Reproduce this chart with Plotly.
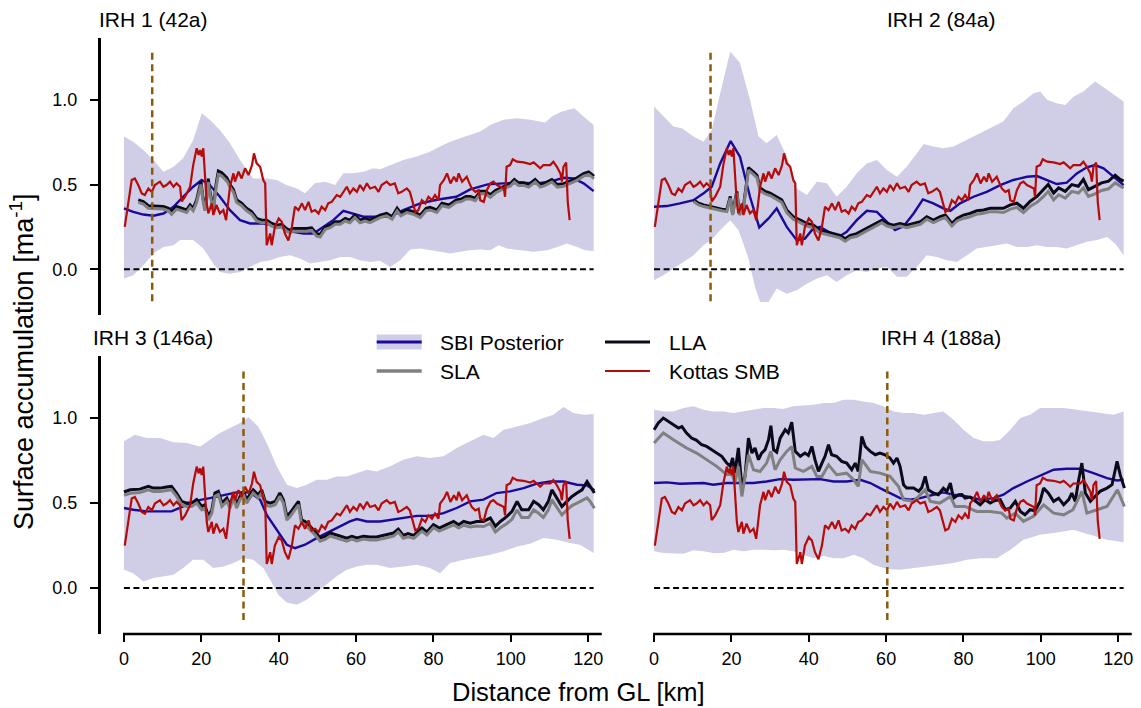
import plotly.graph_objects as go

# ---------------------------------------------------------------- data ----
titles = ["IRH 1 (42a)", "IRH 2 (84a)", "IRH 3 (146a)", "IRH 4 (188a)"]
marker_km = [7.3, 14.6, 30.9, 60.3]          # vertical dashed reference lines
x_ticks = [0, 20, 40, 60, 80, 100, 120]
y_ticks = [0.0, 0.5, 1.0]
y_tick_text = ["0.0", "0.5", "1.0"]

# Kottas SMB (same profile in every panel)
kottas_x = [0.2, 2.0, 2.8, 3.7, 4.6, 5.4, 6.3, 7.2, 8.0, 9.3,
            10.2, 11.0, 11.9, 12.8, 13.6, 14.5, 14.9, 15.8, 17.1, 17.9,
            18.8, 19.3, 19.7, 20.1, 20.5, 20.9, 21.4, 21.8, 22.7, 23.1,
            23.9, 24.8, 25.7, 26.4, 27.0, 27.4, 28.3, 28.7, 29.6, 30.4,
            31.3, 32.2, 33.1, 33.6, 34.3, 35.2, 36.0, 36.5, 36.9, 37.8,
            38.2, 39.0, 40.0, 40.8, 41.6, 42.5, 43.4, 44.2, 45.1, 46.0,
            46.8, 47.7, 48.5, 49.4, 50.3, 51.1, 52.0, 52.8, 53.7, 55.0,
            55.9, 56.7, 57.6, 58.4, 59.3, 60.2, 61.0, 61.9, 62.8, 63.6,
            64.9, 65.8, 66.6, 67.9, 68.8, 70.0, 70.9, 71.8, 73.1, 73.9,
            74.8, 75.3, 76.1, 77.0, 77.9, 78.7, 79.6, 80.4, 81.3, 81.7,
            82.7, 83.5, 84.4, 85.3, 86.0, 86.5, 87.4, 88.6, 89.5, 89.9,
            90.8, 91.7, 92.1, 93.0, 93.8, 94.7, 95.5, 96.4, 97.3, 98.2,
            98.5, 98.9, 99.8, 100.5, 101.6, 103.3, 105.0, 105.9, 106.7, 107.6,
            108.4, 110.2, 111.0, 111.9, 112.8, 113.2, 113.6, 114.3, 114.7, 115.2]
kottas_y = [0.25, 0.527, 0.536, 0.497, 0.448, 0.438, 0.477, 0.457, 0.497, 0.517,
            0.487, 0.497, 0.517, 0.487, 0.507, 0.487, 0.40, 0.428, 0.487, 0.615,
            0.714, 0.675, 0.704, 0.665, 0.714, 0.566, 0.389, 0.33, 0.389, 0.32,
            0.379, 0.33, 0.349, 0.29, 0.408, 0.487, 0.566, 0.517, 0.576, 0.536,
            0.596, 0.556, 0.615, 0.684, 0.625, 0.605, 0.527, 0.507, 0.142, 0.211,
            0.142, 0.25, 0.30, 0.28, 0.211, 0.17, 0.25, 0.369, 0.349, 0.389,
            0.349, 0.398, 0.339, 0.349, 0.329, 0.369, 0.349, 0.389, 0.398, 0.438,
            0.428, 0.457, 0.487, 0.448, 0.477, 0.457, 0.497, 0.467, 0.507, 0.477,
            0.487, 0.457, 0.497, 0.517, 0.497, 0.507, 0.448, 0.457, 0.477, 0.457,
            0.389, 0.339, 0.349, 0.408, 0.389, 0.428, 0.408, 0.438, 0.408, 0.497,
            0.527, 0.566, 0.507, 0.546, 0.517, 0.566, 0.517, 0.546, 0.497, 0.477,
            0.457, 0.467, 0.408, 0.398, 0.467, 0.507, 0.517, 0.497, 0.487, 0.477,
            0.428, 0.605, 0.615, 0.649, 0.635, 0.631, 0.621, 0.631, 0.615, 0.596,
            0.615, 0.615, 0.635, 0.605, 0.566, 0.517, 0.605, 0.63, 0.40, 0.29]

# ---- IRH 1
p1_up_x = [0, 2.4, 5.0, 7.6, 10.2, 12.8, 15.3, 17.9, 20.1, 22.2, 24.8, 27.4, 30.0, 32.2, 33.4,
           36.9, 39.5, 42.0, 44.7, 46.8, 49.4, 52.0, 54.6, 56.7, 59.3, 61.9, 64.5, 66.2, 68.8,
           72.2, 75.7, 79.1, 81.7, 84.3, 86.9, 89.5, 92.1, 94.7, 98.1, 101.6, 105.0, 108.9,
           110.6, 113.2, 116.4, 118.8, 121.4]
p1_up = [0.783, 0.753, 0.704, 0.645, 0.576, 0.605, 0.655, 0.763, 0.921, 0.882, 0.822, 0.744,
         0.645, 0.576, 0.536, 0.536, 0.527, 0.497, 0.477, 0.448, 0.507, 0.517, 0.497, 0.566,
         0.566, 0.576, 0.596, 0.59, 0.615, 0.645, 0.665, 0.694, 0.724, 0.753, 0.773, 0.793,
         0.813, 0.852, 0.882, 0.892, 0.882, 0.866, 0.901, 0.931, 0.951, 0.901, 0.852]
p1_lo_x = [0, 2.4, 5.0, 7.6, 10.2, 12.8, 14.5, 17.9, 20.5, 23.1, 24.8, 27.4, 30.0, 32.6, 35.2,
           37.8, 40.3, 42.9, 45.5, 48.1, 50.7, 53.3, 55.9, 58.4, 61.0, 63.6, 66.2, 68.8, 71.4,
           74.0, 76.6, 79.1, 81.7, 84.3, 86.9, 89.5, 92.1, 94.7, 96.8, 99.0, 102.4, 105.9,
           109.4, 112.0, 114.5, 117.1, 119.2, 121.4]
p1_lo = [-0.055, -0.035, 0.024, 0.093, 0.132, 0.142, 0.172, 0.172, 0.122, 0.034, -0.016,
         -0.026, -0.016, 0.014, 0.043, 0.053, 0.073, 0.083, 0.063, 0.034, 0.043, 0.053, 0.073,
         0.073, 0.053, 0.043, 0.05, 0.014, 0.053, 0.116, 0.122, 0.112, 0.103, 0.093, 0.103,
         0.112, 0.116, 0.112, 0.142, 0.122, 0.112, 0.103, 0.112, 0.132, 0.152, 0.132, 0.112, 0.108]
p1_mean_x = [0, 2.4, 5.0, 7.6, 10.2, 12.8, 15.3, 17.9, 20.1, 22.2, 24.8, 27.4, 30.0, 32.6, 36.0,
             38.6, 41.2, 43.8, 46.4, 49.0, 51.6, 54.1, 56.7, 59.3, 61.9, 66.2, 68.8, 72.2, 76.6,
             81.2, 85.9, 89.5, 94.0, 98.1, 102.4, 106.7, 110.2, 113.6, 116.2, 118.8, 121.4]
p1_mean = [0.359, 0.339, 0.323, 0.316, 0.329, 0.369, 0.428, 0.487, 0.527, 0.497, 0.428, 0.349,
           0.29, 0.27, 0.27, 0.26, 0.25, 0.221, 0.211, 0.211, 0.25, 0.29, 0.345, 0.329, 0.31,
           0.31, 0.31, 0.349, 0.389, 0.412, 0.428, 0.471, 0.501, 0.507, 0.511, 0.507, 0.517,
           0.54, 0.536, 0.507, 0.461]
p1_layer_x = [3.7, 5.0, 6.3, 8.4, 10.2, 11.5, 12.3, 13.6, 14.9, 16.2,
              17.1, 17.9, 18.8, 19.5, 19.9, 20.3, 20.9, 21.4, 21.8, 22.2,
              23.1, 23.8, 24.4, 25.3, 26.6, 27.4, 28.3, 29.1, 30.4, 31.7,
              33.0, 34.3, 35.6, 36.9, 38.2, 39.5, 40.8, 42.0, 42.9, 43.8,
              45.5, 47.2, 48.5, 49.8, 50.7, 52.0, 53.3, 54.6, 55.9, 57.2,
              58.4, 59.7, 61.0, 62.3, 63.6, 65.3, 66.2, 67.9, 69.3, 70.6,
              71.6, 73.1, 74.8, 76.6, 78.1, 79.1, 80.9, 82.2, 84.0, 85.9,
              87.2, 88.4, 89.5, 90.8, 92.1, 93.4, 94.7, 96.0, 97.3, 98.5,
              99.8, 100.9, 102.0, 103.3, 104.6, 106.3, 107.6, 108.9, 110.6, 112.0,
              113.6, 115.3, 117.1, 118.8, 120.1, 121.5]
p1_lla = [0.41, 0.40, 0.375, 0.37, 0.37, 0.36, 0.34, 0.37, 0.36, 0.35,
          0.38, 0.36, 0.41, 0.48, 0.52, 0.44, 0.36, 0.43, 0.535, 0.46,
          0.36, 0.50, 0.58, 0.57, 0.54, 0.50, 0.47, 0.41, 0.39, 0.36,
          0.34, 0.30, 0.29, 0.29, 0.27, 0.26, 0.265, 0.24, 0.23, 0.24,
          0.24, 0.24, 0.245, 0.21, 0.205, 0.25, 0.26, 0.28, 0.28, 0.30,
          0.29, 0.32, 0.29, 0.30, 0.29, 0.31, 0.32, 0.33, 0.31, 0.36,
          0.33, 0.35, 0.34, 0.32, 0.36, 0.365, 0.35, 0.39, 0.38, 0.41,
          0.415, 0.43, 0.43, 0.42, 0.46, 0.46, 0.44, 0.465, 0.48, 0.495,
          0.505, 0.53, 0.51, 0.51, 0.50, 0.53, 0.50, 0.51, 0.53, 0.50,
          0.505, 0.52, 0.54, 0.565, 0.575, 0.55]
p1_sla = [0.395, 0.385, 0.36, 0.355, 0.355, 0.345, 0.325, 0.355, 0.345, 0.335,
          0.365, 0.345, 0.395, 0.46, 0.50, 0.425, 0.345, 0.415, 0.515, 0.445,
          0.345, 0.48, 0.56, 0.55, 0.52, 0.485, 0.455, 0.395, 0.375, 0.345,
          0.325, 0.285, 0.275, 0.275, 0.255, 0.245, 0.25, 0.225, 0.215, 0.225,
          0.225, 0.225, 0.23, 0.195, 0.19, 0.235, 0.245, 0.265, 0.265, 0.285,
          0.275, 0.305, 0.275, 0.285, 0.275, 0.295, 0.305, 0.315, 0.295, 0.345,
          0.315, 0.335, 0.325, 0.305, 0.345, 0.35, 0.335, 0.375, 0.365, 0.395,
          0.40, 0.415, 0.415, 0.405, 0.445, 0.445, 0.425, 0.45, 0.465, 0.48,
          0.49, 0.515, 0.495, 0.495, 0.485, 0.515, 0.485, 0.495, 0.515, 0.485,
          0.49, 0.505, 0.525, 0.55, 0.56, 0.535]

# ---- IRH 2
p2_up_x = [0, 2.4, 5.0, 7.2, 10.2, 12.8, 14.9, 17.1, 19.7, 22.2, 24.8, 27.0, 29.1, 31.7, 34.3,
           36.9, 39.5, 42.1, 44.7, 47.2, 49.8, 52.4, 55.0, 57.6, 60.2, 62.8, 65.3, 67.9, 69.7,
           72.2, 74.8, 77.4, 80.0, 82.6, 85.2, 87.8, 90.3, 92.9, 95.5, 98.1, 99.8, 101.6, 104.1,
           106.3, 108.5, 111.0, 114.0, 116.2, 118.8, 121.4]
p2_up = [0.961, 0.901, 0.842, 0.832, 0.783, 0.753, 0.822, 1.039, 1.286, 1.217, 1.0, 0.783,
         0.744, 0.793, 0.665, 0.477, 0.438, 0.517, 0.507, 0.428, 0.487, 0.566, 0.625, 0.645,
         0.586, 0.546, 0.605, 0.684, 0.74, 0.724, 0.714, 0.724, 0.753, 0.783, 0.813, 0.842,
         0.872, 0.951, 0.99, 1.039, 1.049, 1.0, 0.98, 0.97, 1.02, 1.049, 1.108, 1.075, 1.03, 0.99]
p2_lo_x = [0, 2.4, 5.0, 7.6, 10.2, 12.8, 14.9, 17.1, 19.7, 21.8, 24.3, 26.1, 27.4, 29.6, 31.7,
           34.3, 36.9, 39.5, 42.1, 44.7, 47.2, 49.8, 52.4, 55.0, 57.6, 60.2, 62.8, 65.3, 67.9,
           70.5, 73.1, 75.7, 78.3, 80.9, 83.4, 86.0, 88.6, 91.2, 93.8, 96.4, 99.0, 101.6, 104.1,
           106.7, 109.3, 111.9, 114.5, 117.1, 119.2, 121.4]
p2_lo = [-0.065, -0.035, 0.004, 0.043, 0.083, 0.142, 0.176, 0.231, 0.29, 0.231, 0.073, -0.105,
         -0.193, -0.193, -0.114, -0.144, -0.124, -0.085, -0.055, -0.035, -0.075, -0.035, -0.006,
         -0.016, 0.004, 0.014, -0.045, -0.045, 0.014, 0.083, 0.073, 0.053, 0.043, 0.083, 0.122,
         0.132, 0.142, 0.152, 0.132, 0.132, 0.142, 0.132, 0.132, 0.122, 0.142, 0.162, 0.172,
         0.191, 0.152, 0.083]
p2_mean_x = [0, 3.3, 6.7, 10.2, 12.8, 14.9, 17.1, 19.8, 22.2, 24.8, 27.2, 29.6, 31.7, 34.3, 36.9,
             39.0, 40.8, 42.9, 45.1, 47.7, 49.8, 52.4, 55.0, 57.6, 60.2, 62.3, 64.5, 67.1, 69.5,
             72.2, 74.8, 76.6, 79.1, 82.6, 86.0, 89.5, 92.9, 96.4, 99.0, 101.6, 104.1, 106.7,
             109.3, 111.9, 114.0, 116.2, 118.8, 121.4]
p2_mean = [0.369, 0.373, 0.389, 0.408, 0.448, 0.487, 0.625, 0.757, 0.665, 0.428, 0.247, 0.3,
           0.359, 0.25, 0.172, 0.181, 0.231, 0.25, 0.221, 0.191, 0.221, 0.29, 0.345, 0.339, 0.28,
           0.231, 0.254, 0.329, 0.412, 0.389, 0.359, 0.345, 0.389, 0.428, 0.457, 0.497, 0.527,
           0.546, 0.55, 0.527, 0.503, 0.511, 0.566, 0.602, 0.615, 0.596, 0.546, 0.497]
p2_layer_x = [10.2, 11.5, 12.8, 14.5, 15.8, 17.5, 18.8, 19.7, 20.3, 21.4,
              22.1, 23.1, 23.8, 24.4, 25.7, 26.6, 27.4, 28.7, 30.0, 31.7,
              33.0, 34.3, 36.0, 37.8, 39.5, 41.2, 42.9, 44.7, 46.4, 48.1,
              49.4, 50.7, 52.4, 54.1, 55.9, 57.6, 58.9, 60.2, 61.9, 63.6,
              65.3, 67.1, 68.8, 70.5, 72.2, 74.0, 75.3, 77.0, 78.3, 80.0,
              81.7, 83.4, 85.2, 86.9, 88.6, 90.3, 92.1, 93.8, 95.5, 97.2,
              99.0, 100.7, 101.9, 103.3, 104.6, 106.3, 108.0, 109.7, 111.0, 112.3,
              114.0, 115.7, 117.5, 119.2, 120.5, 121.4]
p2_lla = [0.41, 0.39, 0.38, 0.37, 0.365, 0.355, 0.35, 0.43, 0.33, 0.46,
          0.33, 0.37, 0.49, 0.60, 0.575, 0.555, 0.48, 0.46, 0.45, 0.43,
          0.41, 0.35, 0.31, 0.29, 0.27, 0.26, 0.23, 0.22, 0.21, 0.20,
          0.18, 0.20, 0.21, 0.23, 0.25, 0.27, 0.29, 0.27, 0.26, 0.27,
          0.26, 0.27, 0.28, 0.31, 0.29, 0.31, 0.32, 0.27, 0.30, 0.32,
          0.33, 0.345, 0.35, 0.36, 0.36, 0.36, 0.38, 0.39, 0.36, 0.40,
          0.43, 0.47, 0.50, 0.45, 0.48, 0.46, 0.50, 0.49, 0.53, 0.47,
          0.49, 0.51, 0.52, 0.555, 0.53, 0.52]
p2_sla = [0.40, 0.38, 0.37, 0.36, 0.355, 0.345, 0.34, 0.42, 0.32, 0.45,
          0.32, 0.36, 0.48, 0.585, 0.56, 0.54, 0.465, 0.445, 0.435, 0.415,
          0.395, 0.335, 0.295, 0.275, 0.255, 0.245, 0.215, 0.205, 0.195, 0.185,
          0.165, 0.185, 0.195, 0.215, 0.235, 0.255, 0.275, 0.255, 0.245, 0.255,
          0.245, 0.255, 0.265, 0.295, 0.275, 0.295, 0.305, 0.255, 0.285, 0.30,
          0.31, 0.325, 0.33, 0.34, 0.34, 0.335, 0.355, 0.365, 0.335, 0.37,
          0.395, 0.43, 0.46, 0.41, 0.44, 0.42, 0.46, 0.45, 0.48, 0.43,
          0.445, 0.465, 0.475, 0.51, 0.49, 0.48]

# ---- IRH 3
p3_up_x = [0, 2.8, 5.9, 9.3, 12.8, 16.2, 19.7, 22.2, 24.8, 27.4, 30.0, 32.2, 34.7, 36.9, 39.5,
           42.1, 44.7, 47.2, 49.8, 52.4, 55.0, 57.6, 60.2, 62.8, 65.3, 68.8, 72.2, 75.7, 79.1,
           82.6, 86.0, 89.5, 92.9, 95.5, 98.1, 101.6, 105.0, 108.4, 111.0, 113.6, 116.2, 118.8, 121.4]
p3_up = [0.863, 0.902, 0.882, 0.882, 0.857, 0.853, 0.833, 0.873, 0.912, 0.941, 0.971, 1.004,
         0.951, 0.853, 0.716, 0.608, 0.588, 0.608, 0.637, 0.637, 0.657, 0.657, 0.676, 0.696,
         0.686, 0.716, 0.755, 0.775, 0.765, 0.775, 0.824, 0.863, 0.902, 0.882, 0.931, 0.951,
         0.971, 1.0, 1.02, 1.065, 1.029, 1.02, 1.024]
p3_lo_x = [0, 2.4, 5.0, 7.6, 10.2, 12.8, 15.3, 17.9, 20.5, 23.1, 25.7, 28.3, 30.9, 33.4, 36.0,
           37.8, 39.9, 42.1, 44.7, 47.2, 49.8, 52.4, 55.0, 57.6, 60.2, 62.8, 65.3, 68.8, 72.2,
           75.7, 79.1, 81.7, 84.3, 87.8, 91.2, 94.7, 98.1, 101.6, 105.0, 108.4, 111.9, 115.3,
           117.9, 121.4]
p3_lo = [0.108, 0.088, 0.039, 0.059, 0.069, 0.078, 0.118, 0.167, 0.167, 0.118, 0.127, 0.147,
         0.176, 0.167, 0.118, 0.049, -0.039, -0.084, -0.098, -0.069, -0.025, 0.02, 0.069, 0.108,
         0.127, 0.137, 0.137, 0.118, 0.127, 0.137, 0.118, 0.088, 0.147, 0.167, 0.182, 0.196,
         0.216, 0.245, 0.261, 0.294, 0.284, 0.265, 0.255, 0.206]
p3_mean_x = [0, 2.4, 5.9, 9.3, 12.3, 15.3, 18.8, 22.2, 25.7, 29.1, 32.6, 35.2, 36.9, 39.5, 42.1,
             44.2, 46.8, 49.8, 53.3, 55.9, 58.4, 60.2, 62.8, 66.2, 68.8, 72.2, 75.7, 79.1, 82.6,
             86.0, 89.5, 92.9, 96.3, 99.8, 103.3, 106.7, 110.2, 113.6, 117.1, 119.7, 121.6]
p3_mean = [0.471, 0.461, 0.451, 0.451, 0.451, 0.48, 0.514, 0.529, 0.545, 0.563, 0.563, 0.52,
           0.431, 0.343, 0.255, 0.235, 0.255, 0.294, 0.333, 0.363, 0.392, 0.406, 0.392, 0.392,
           0.402, 0.412, 0.425, 0.425, 0.441, 0.471, 0.51, 0.52, 0.559, 0.569, 0.588, 0.614,
           0.627, 0.627, 0.608, 0.604, 0.575]
p3_layer_x = [0, 1.6, 4.1, 6.3, 7.6, 9.3, 11.0, 12.3, 13.6, 14.9,
              16.2, 17.5, 18.8, 20.1, 20.9, 21.8, 22.7, 23.5, 24.4, 25.3,
              26.6, 27.4, 28.3, 29.1, 30.0, 30.9, 31.7, 32.6, 33.4, 34.7,
              35.6, 36.5, 37.8, 39.1, 40.3, 41.2, 42.1, 42.9, 44.2, 45.1,
              45.9, 46.8, 48.1, 49.4, 50.7, 52.0, 53.3, 54.6, 55.9, 57.6,
              58.9, 60.2, 61.9, 63.6, 65.3, 66.2, 67.9, 69.7, 70.9, 72.2,
              73.4, 74.9, 77.0, 78.3, 80.0, 81.5, 83.4, 85.2, 86.5, 87.8,
              89.5, 91.2, 92.9, 94.7, 96.0, 97.3, 99.0, 100.3, 101.6, 102.8,
              104.6, 105.9, 107.2, 108.4, 109.7, 110.6, 111.9, 113.2, 114.5, 115.8,
              117.1, 118.4, 119.7, 120.5, 121.6]
p3_lla = [0.565, 0.578, 0.582, 0.598, 0.588, 0.588, 0.594, 0.598, 0.559, 0.51,
          0.50, 0.50, 0.52, 0.48, 0.49, 0.422, 0.46, 0.559, 0.569, 0.50,
          0.529, 0.49, 0.549, 0.49, 0.539, 0.569, 0.52, 0.549, 0.578, 0.549,
          0.578, 0.51, 0.50, 0.51, 0.559, 0.52, 0.422, 0.441, 0.48, 0.51,
          0.402, 0.392, 0.363, 0.333, 0.294, 0.304, 0.324, 0.315, 0.308, 0.294,
          0.305, 0.295, 0.305, 0.30, 0.30, 0.304, 0.314, 0.324, 0.347, 0.31,
          0.32, 0.31, 0.353, 0.33, 0.373, 0.353, 0.373, 0.392, 0.373, 0.392,
          0.382, 0.392, 0.392, 0.412, 0.363, 0.392, 0.422, 0.451, 0.51, 0.461,
          0.461, 0.51, 0.49, 0.461, 0.51, 0.578, 0.529, 0.48, 0.51, 0.539,
          0.559, 0.578, 0.627, 0.598, 0.559]
p3_sla = [0.545, 0.558, 0.562, 0.578, 0.568, 0.568, 0.574, 0.578, 0.54, 0.49,
          0.48, 0.48, 0.50, 0.46, 0.47, 0.40, 0.44, 0.54, 0.55, 0.48,
          0.51, 0.47, 0.53, 0.47, 0.52, 0.55, 0.50, 0.53, 0.56, 0.53,
          0.56, 0.49, 0.48, 0.49, 0.54, 0.50, 0.40, 0.42, 0.46, 0.49,
          0.38, 0.372, 0.343, 0.313, 0.276, 0.286, 0.306, 0.297, 0.29, 0.276,
          0.288, 0.278, 0.288, 0.283, 0.283, 0.286, 0.296, 0.306, 0.33, 0.293,
          0.302, 0.292, 0.335, 0.312, 0.355, 0.335, 0.355, 0.372, 0.353, 0.37,
          0.36, 0.365, 0.362, 0.38, 0.33, 0.355, 0.38, 0.405, 0.46, 0.415,
          0.415, 0.46, 0.44, 0.415, 0.46, 0.52, 0.475, 0.43, 0.46, 0.485,
          0.50, 0.515, 0.53, 0.51, 0.47]

# ---- IRH 4
p4_up_x = [0, 2.4, 5.0, 7.6, 10.2, 12.8, 15.3, 17.9, 20.5, 23.1, 25.7, 28.3, 30.9, 33.4, 36.0,
           38.6, 41.2, 43.8, 46.4, 49.0, 51.6, 54.1, 56.7, 59.3, 61.9, 64.5, 67.1, 69.7, 72.2,
           74.8, 77.4, 80.0, 82.6, 85.2, 87.8, 89.5, 92.1, 94.7, 97.2, 99.8, 102.4, 105.9, 109.3,
           112.8, 116.2, 118.8, 121.4]
p4_up = [1.049, 1.039, 1.039, 1.059, 1.069, 1.049, 1.039, 1.039, 1.029, 1.039, 1.049, 1.059,
         1.059, 1.053, 1.069, 1.073, 1.078, 1.088, 1.088, 1.108, 1.108, 1.098, 1.088, 1.069,
         1.039, 1.029, 1.029, 1.02, 1.029, 1.039, 0.99, 0.931, 0.882, 0.863, 0.863, 0.873,
         0.931, 1.0, 1.02, 1.059, 1.059, 1.059, 1.049, 1.039, 1.029, 1.02, 1.039]
p4_lo_x = [0, 2.4, 5.0, 7.6, 10.2, 12.8, 15.3, 17.9, 20.5, 23.1, 25.7, 28.3, 30.9, 33.4, 36.0,
           38.6, 41.2, 43.8, 46.4, 49.0, 51.6, 54.1, 56.7, 60.2, 63.6, 67.1, 70.5, 74.0, 77.4,
           80.9, 84.3, 88.6, 92.1, 95.5, 99.8, 104.1, 108.4, 112.8, 117.1, 121.4]
p4_lo = [0.216, 0.206, 0.206, 0.202, 0.222, 0.216, 0.206, 0.206, 0.225, 0.216, 0.225, 0.225,
         0.222, 0.225, 0.216, 0.196, 0.176, 0.19, 0.176, 0.176, 0.196, 0.176, 0.137, 0.112,
         0.108, 0.118, 0.127, 0.137, 0.147, 0.167, 0.176, 0.176, 0.225, 0.284, 0.314, 0.327,
         0.343, 0.314, 0.284, 0.269]
p4_mean_x = [0, 3.3, 6.7, 10.2, 12.8, 15.3, 18.8, 22.2, 25.7, 29.1, 32.6, 36.0, 39.5, 42.9, 46.4,
             49.8, 53.3, 55.9, 58.4, 61.0, 63.6, 66.2, 68.8, 72.2, 74.8, 77.4, 80.9, 84.3, 87.8,
             90.3, 92.9, 96.4, 99.8, 103.3, 106.7, 110.2, 113.6, 117.1, 119.7, 121.4]
p4_mean = [0.618, 0.622, 0.614, 0.614, 0.618, 0.608, 0.618, 0.618, 0.618, 0.627, 0.641, 0.637,
           0.637, 0.641, 0.627, 0.627, 0.637, 0.618, 0.588, 0.559, 0.529, 0.52, 0.529, 0.549,
           0.563, 0.549, 0.539, 0.52, 0.529, 0.549, 0.588, 0.627, 0.661, 0.696, 0.702, 0.702,
           0.676, 0.647, 0.633, 0.637]
p4_lla_x = [0, 1.1, 2.4, 3.7, 5.0, 6.3, 7.2, 8.4, 9.7, 11.0,
            12.3, 13.6, 14.9, 16.2, 17.5, 18.8, 19.7, 20.3, 20.9, 21.8,
            22.7, 23.5, 24.4, 25.3, 26.1, 27.0, 27.8, 28.7, 29.6, 30.2,
            30.9, 31.7, 32.6, 33.9, 34.7, 35.6, 36.5, 37.8, 39.0, 39.9,
            40.8, 41.6, 42.5, 43.4, 44.2, 45.1, 45.9, 47.2, 48.5, 49.8,
            51.1, 52.0, 52.8, 53.7, 54.6, 55.9, 57.2, 58.4, 59.7, 61.0,
            61.9, 62.8, 63.6, 64.5, 65.3, 67.1, 68.4, 69.2, 70.1, 70.9,
            72.2, 73.5, 74.8, 75.7, 76.6, 77.4, 78.7, 79.6, 80.4, 81.7,
            83.0, 84.3, 85.6, 86.9, 88.2, 89.5, 90.8, 92.1, 93.4, 94.7,
            95.9, 97.2, 98.5, 99.8, 100.7, 101.9, 103.3, 104.6, 105.9, 107.2,
            108.0, 108.9, 109.7, 110.6, 111.5, 112.8, 114.0, 115.3, 117.1, 118.4,
            119.7, 120.5, 121.6]
p4_lla = [0.931, 0.971, 1.0, 0.98, 0.961, 0.941, 0.95, 0.912, 0.882, 0.869,
          0.843, 0.833, 0.814, 0.794, 0.775, 0.735, 0.716, 0.765, 0.676, 0.824,
          0.598, 0.657, 0.882, 0.794, 0.824, 0.755, 0.794, 0.814, 0.873, 0.955,
          0.814, 0.80, 0.882, 0.931, 0.912, 0.975, 0.804, 0.775, 0.794, 0.78,
          0.833, 0.755, 0.686, 0.735, 0.775, 0.843, 0.784, 0.775, 0.745, 0.735,
          0.696, 0.735, 0.686, 0.892, 0.833, 0.804, 0.784, 0.794, 0.784, 0.765,
          0.735, 0.765, 0.716, 0.608, 0.588, 0.588, 0.569, 0.59, 0.657, 0.578,
          0.559, 0.549, 0.588, 0.569, 0.618, 0.529, 0.549, 0.55, 0.529, 0.535,
          0.51, 0.49, 0.52, 0.50, 0.515, 0.52, 0.461, 0.471, 0.51, 0.451,
          0.431, 0.461, 0.455, 0.51, 0.588, 0.559, 0.51, 0.529, 0.49, 0.52,
          0.559, 0.51, 0.627, 0.735, 0.559, 0.51, 0.539, 0.569, 0.588, 0.608,
          0.745, 0.667, 0.588]
p4_sla_x = [0, 2.4, 5.0, 8.4, 11.0, 13.6, 16.2, 18.8, 20.1, 20.9,
            21.8, 22.7, 24.4, 25.7, 27.4, 29.1, 30.2, 31.3, 32.6, 34.3,
            35.6, 36.5, 38.6, 40.8, 42.1, 43.4, 45.1, 47.2, 49.8, 51.6,
            52.8, 53.7, 55.9, 58.4, 61.0, 63.2, 64.5, 67.1, 70.1, 71.4,
            73.9, 76.6, 77.8, 80.4, 83.4, 86.9, 89.9, 91.2, 93.4, 95.5,
            98.1, 100.7, 103.3, 105.9, 108.3, 110.6, 111.9, 114.5, 117.1, 119.8,
            121.6]
p4_sla = [0.853, 0.912, 0.873, 0.824, 0.794, 0.755, 0.716, 0.667, 0.675, 0.618,
          0.716, 0.539, 0.784, 0.696, 0.686, 0.735, 0.804, 0.696, 0.755, 0.804,
          0.833, 0.706, 0.686, 0.716, 0.657, 0.657, 0.725, 0.667, 0.676, 0.637,
          0.598, 0.755, 0.686, 0.676, 0.657, 0.598, 0.52, 0.51, 0.578, 0.51,
          0.50, 0.539, 0.48, 0.48, 0.451, 0.451, 0.441, 0.412, 0.441, 0.392,
          0.422, 0.49, 0.441, 0.431, 0.461, 0.569, 0.441, 0.461, 0.48, 0.578,
          0.48]

panels = [
    dict(up_x=p1_up_x, up=p1_up, lo_x=p1_lo_x, lo=p1_lo, mean_x=p1_mean_x, mean=p1_mean,
         lla_x=p1_layer_x, lla=p1_lla, sla_x=p1_layer_x, sla=p1_sla),
    dict(up_x=p2_up_x, up=p2_up, lo_x=p2_lo_x, lo=p2_lo, mean_x=p2_mean_x, mean=p2_mean,
         lla_x=p2_layer_x, lla=p2_lla, sla_x=p2_layer_x, sla=p2_sla),
    dict(up_x=p3_up_x, up=p3_up, lo_x=p3_lo_x, lo=p3_lo, mean_x=p3_mean_x, mean=p3_mean,
         lla_x=p3_layer_x, lla=p3_lla, sla_x=p3_layer_x, sla=p3_sla),
    dict(up_x=p4_up_x, up=p4_up, lo_x=p4_lo_x, lo=p4_lo, mean_x=p4_mean_x, mean=p4_mean,
         lla_x=p4_lla_x, lla=p4_lla, sla_x=p4_sla_x, sla=p4_sla),
]

# --------------------------------------------------------------- style ----
FONT = "Liberation Sans, Arial, Helvetica, sans-serif"
BAND = "rgb(208,205,230)"
MEAN = "#1a0a9c"
LLA_C = "#0a0a1a"
SLA_C = "#808080"
KOT = "#b50b0b"
MARK = "#8b5b0b"

W, H = 1141, 708
x_range = [-6, 123.5]
y_range = [-0.27, 1.365]
x_dom = [[0.0883, 0.5274], [0.5529, 0.9919]]
y_dom = [[0.5551, 0.9463], [0.1045, 0.4972]]

fig = go.Figure()
layout = dict(
    width=W, height=H, autosize=False, template="none",
    margin=dict(l=0, r=0, t=0, b=0, pad=0),
    paper_bgcolor="white", plot_bgcolor="white",
    font=dict(family=FONT, color="black", size=18),
    showlegend=False,
)
shapes, annotations = [], []

for i, p in enumerate(panels):
    row, col = divmod(i, 2)
    sx = "" if i == 0 else str(i + 1)
    xa, ya = "x" + sx, "y" + sx

    # posterior envelope as a closed polygon
    fig.add_trace(go.Scatter(
        x=p["up_x"] + p["lo_x"][::-1], y=p["up"] + p["lo"][::-1],
        fill="toself", fillcolor=BAND, mode="lines", line=dict(width=0),
        xaxis=xa, yaxis=ya, hoverinfo="skip"))
    # zero reference
    fig.add_trace(go.Scatter(
        x=[0, p["up_x"][-1]], y=[0, 0], mode="lines",
        line=dict(color="black", width=2, dash="6px,3.5px"),
        xaxis=xa, yaxis=ya, hoverinfo="skip"))
    fig.add_trace(go.Scatter(x=p["mean_x"], y=p["mean"], mode="lines",
                             line=dict(color=MEAN, width=2.4), xaxis=xa, yaxis=ya))
    fig.add_trace(go.Scatter(x=p["lla_x"], y=p["lla"], mode="lines",
                             line=dict(color=LLA_C, width=3), xaxis=xa, yaxis=ya))
    fig.add_trace(go.Scatter(x=p["sla_x"], y=p["sla"], mode="lines",
                             line=dict(color=SLA_C, width=3), xaxis=xa, yaxis=ya))
    fig.add_trace(go.Scatter(x=kottas_x, y=kottas_y, mode="lines",
                             line=dict(color=KOT, width=2.2), xaxis=xa, yaxis=ya))

    bottom = row == 1
    left = col == 0
    xaxis = dict(domain=x_dom[col], anchor=ya, range=x_range, showgrid=False,
                 zeroline=False, showline=False, automargin=False)
    if bottom:
        xaxis.update(tickvals=x_ticks, ticks="outside", ticklen=7, tickwidth=2,
                     tickcolor="black", ticklabelstandoff=1,
                     tickfont=dict(size=18, family=FONT, color="black"))
    else:
        xaxis.update(showticklabels=False, ticks="")
    yaxis = dict(domain=y_dom[row], anchor=xa, range=y_range, showgrid=False,
                 zeroline=False, automargin=False)
    if left:
        yaxis.update(showline=True, linewidth=2.5, linecolor="black",
                     tickvals=y_ticks, ticktext=y_tick_text, ticks="outside",
                     ticklen=8, tickwidth=2, tickcolor="black", ticklabelstandoff=9,
                     tickfont=dict(size=18, family=FONT, color="black"))
    else:
        yaxis.update(showline=False, showticklabels=False, ticks="")
    layout["xaxis" + sx] = xaxis
    layout["yaxis" + sx] = yaxis

    # x spine for the bottom row, starting at the first tick
    if bottom:
        span = x_range[1] - x_range[0]
        shapes.append(dict(type="line", xref=xa + " domain", yref=ya + " domain",
                           x0=(-0.25 - x_range[0]) / span, x1=1.0, y0=0, y1=0,
                           line=dict(color="black", width=2.5)))
    # vertical dashed reference line
    shapes.append(dict(type="line", xref=xa, yref=ya + " domain",
                       x0=marker_km[i], x1=marker_km[i], y0=0.05, y1=0.95,
                       line=dict(color=MARK, width=2.5, dash="7px,4.5px")))

    # panel title
    annotations.append(dict(
        text=titles[i], xref="paper", yref="paper",
        x=(153 if left else 941) / W, y=1 - (19 if row == 0 else 337) / H,
        xanchor="center", yanchor="middle", showarrow=False,
        font=dict(size=21, family=FONT, color="black")))

# axis titles
annotations.append(dict(text="Distance from GL [km]", xref="paper", yref="paper",
                        x=578 / W, y=1 - 692 / H, xanchor="center", yanchor="middle",
                        showarrow=False, font=dict(size=25.5, family=FONT, color="black")))
annotations.append(dict(text="Surface accumulation [ma<sup>-1</sup>]", xref="paper", yref="paper",
                        x=22 / W, y=1 - 362 / H, xanchor="center", yanchor="middle",
                        textangle=-90, showarrow=False,
                        font=dict(size=27, family=FONT, color="black")))

# legend (two columns)
leg_rows = [342, 371]
leg_cols = [(376.7, 421.7, 438.3), (605, 650, 666.7)]
leg_items = [
    ("SBI Posterior", 0, 0, MEAN, 3),
    ("SLA", 0, 1, SLA_C, 3.5),
    ("LLA", 1, 0, LLA_C, 3),
    ("Kottas SMB", 1, 1, KOT, 2.2),
]
for label, c, r, color, width in leg_items:
    x0, x1, xt = leg_cols[c]
    yc = 1 - leg_rows[r] / H
    if label == "SBI Posterior":
        shapes.append(dict(type="rect", xref="paper", yref="paper",
                           x0=x0 / W, x1=x1 / W, y0=yc - 7.5 / H, y1=yc + 7.5 / H,
                           fillcolor=BAND, line=dict(width=0)))
    shapes.append(dict(type="line", xref="paper", yref="paper",
                       x0=x0 / W, x1=x1 / W, y0=yc, y1=yc,
                       line=dict(color=color, width=width)))
    annotations.append(dict(text=label, xref="paper", yref="paper", x=xt / W, y=yc,
                            xanchor="left", yanchor="middle", showarrow=False,
                            font=dict(size=21, family=FONT, color="black")))

layout["shapes"] = shapes
layout["annotations"] = annotations
fig.update_layout(**layout)
fig.write_html("out.html")
